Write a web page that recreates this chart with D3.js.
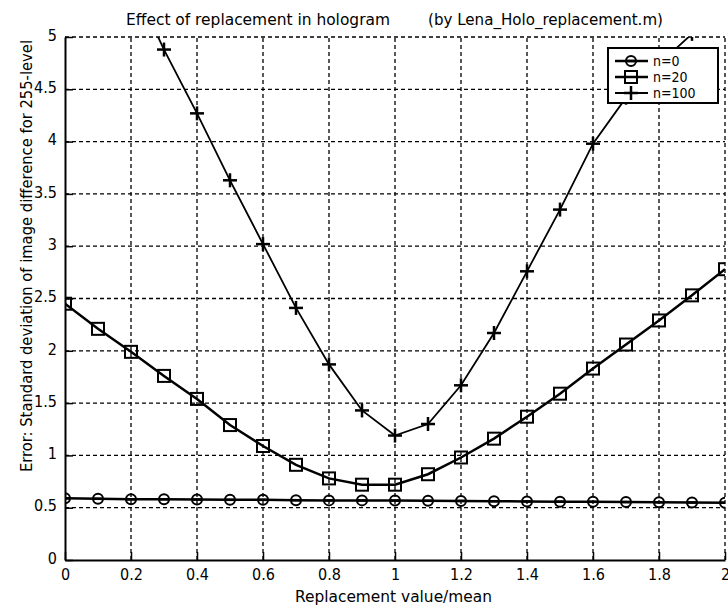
<!DOCTYPE html>
<html>
<head>
<meta charset="utf-8">
<script src="https://cdn.jsdelivr.net/npm/d3@7"></script>
<style>
  body { margin: 0; background: #fff; }
  svg text { font-family: "Liberation Sans Narrow", "DejaVu Sans Condensed", "Liberation Sans", sans-serif; fill: #000; }
</style>
</head>
<body>
<div class="container"></div>
<script>
const xValues = [0, 0.1, 0.2, 0.3, 0.4, 0.5, 0.6, 0.7, 0.8, 0.9, 1.0, 1.1, 1.2, 1.3, 1.4, 1.5, 1.6, 1.7, 1.8, 1.9, 2.0];
const n0 = [0.59, 0.585, 0.58, 0.58, 0.578, 0.575, 0.575, 0.572, 0.57, 0.57, 0.568, 0.566, 0.565, 0.562, 0.56, 0.558, 0.556, 0.554, 0.552, 0.55, 0.548];
const n20 = [2.45, 2.21, 1.99, 1.76, 1.54, 1.29, 1.09, 0.91, 0.78, 0.72, 0.72, 0.82, 0.98, 1.16, 1.37, 1.59, 1.83, 2.06, 2.29, 2.53, 2.78];
const n100 = [6.8, 6.2, 5.55, 4.88, 4.27, 3.63, 3.02, 2.41, 1.87, 1.43, 1.19, 1.3, 1.67, 2.17, 2.76, 3.35, 3.98, 4.42, 4.74, 5.03, 5.3];
const seriesNames = ["n=0", "n=20", "n=100"];
const xTicks = [0, 0.2, 0.4, 0.6, 0.8, 1, 1.2, 1.4, 1.6, 1.8, 2];
const yTicks = [0, 0.5, 1, 1.5, 2, 2.5, 3, 3.5, 4, 4.5, 5];

const width = 728;
const height = 612;
const svg = d3.select(".container").append("svg")
  .attr("width", width)
  .attr("height", height);

const x = d3.scaleLinear().domain([0, 2]).range([65, 725]);
const y = d3.scaleLinear().domain([0, 5]).range([560, 37]);

svg.append("defs").append("clipPath").attr("id", "plot")
  .append("rect")
  .attr("x", x(0)).attr("y", y(5))
  .attr("width", x(2) - x(0)).attr("height", y(0) - y(5));

// grid
const grid = svg.append("g").attr("stroke", "#000").attr("stroke-width", 1.3)
  .attr("stroke-dasharray", "4,3");
xTicks.slice(1).forEach((t) => {
  grid.append("line")
    .attr("x1", x(t)).attr("x2", x(t))
    .attr("y1", y(0)).attr("y2", y(5));
});
yTicks.slice(1).forEach((t) => {
  grid.append("line")
    .attr("x1", x(0)).attr("x2", x(2))
    .attr("y1", y(t)).attr("y2", y(t));
});

// axes
const xAxis = d3.axisBottom(x).tickValues(xTicks).tickSizeInner(-8).tickSizeOuter(0)
  .tickFormat(d3.format("~g")).tickPadding(10);
const gx = svg.append("g").attr("transform", `translate(0,${y(0)})`).call(xAxis);
gx.select(".domain").attr("stroke-width", 2);
gx.selectAll(".tick line").attr("stroke-width", 1.5);
gx.selectAll("text").attr("font-size", 16).attr("dy", "0.6em");

const yAxis = d3.axisLeft(y).tickValues(yTicks).tickSizeInner(-8).tickSizeOuter(0)
  .tickFormat(d3.format("~g")).tickPadding(8);
const gy = svg.append("g").attr("transform", `translate(${x(0)},0)`).call(yAxis);
gy.select(".domain").attr("stroke-width", 2);
gy.selectAll(".tick line").attr("stroke-width", 1.5);
gy.selectAll("text").attr("font-size", 16).attr("dy", "0.2em");
svg.selectAll(".domain, .tick line").attr("stroke", "#000");

// curves
const plot = svg.append("g").attr("clip-path", "url(#plot)");
const line = d3.line().x((d) => x(d[0])).y((d) => y(d[1]));
const series = [
  { name: seriesNames[0], values: n0, marker: "circle", width: 2.5 },
  { name: seriesNames[1], values: n20, marker: "square", width: 2.5 },
  { name: seriesNames[2], values: n100, marker: "plus", width: 1.8 },
];

function drawMarker(g, type, cx, cy) {
  if (type === "circle") {
    g.append("circle").attr("cx", cx).attr("cy", cy).attr("r", 5)
      .attr("fill", "none").attr("stroke", "#000").attr("stroke-width", 2);
    g.append("line").attr("x1", cx - 5).attr("x2", cx + 5).attr("y1", cy).attr("y2", cy)
      .attr("stroke", "#000").attr("stroke-width", 2.5);
  } else if (type === "square") {
    g.append("rect").attr("x", cx - 6).attr("y", cy - 6).attr("width", 12).attr("height", 12)
      .attr("fill", "none").attr("stroke", "#000").attr("stroke-width", 2);
  } else {
    g.append("line").attr("x1", cx - 7).attr("x2", cx + 7).attr("y1", cy).attr("y2", cy)
      .attr("stroke", "#000").attr("stroke-width", 2.5);
    g.append("line").attr("x1", cx).attr("x2", cx).attr("y1", cy - 7).attr("y2", cy + 7)
      .attr("stroke", "#000").attr("stroke-width", 2.5);
  }
}

series.forEach((s) => {
  const pts = xValues.map((v, i) => [v, s.values[i]]);
  plot.append("path").datum(pts)
    .attr("d", line)
    .attr("fill", "none")
    .attr("stroke", "#000")
    .attr("stroke-width", s.width);
  pts.forEach((p) => drawMarker(plot, s.marker, x(p[0]), y(p[1])));
});

// legend
const legend = svg.append("g");
legend.append("rect")
  .attr("x", 608).attr("y", 48).attr("width", 110).attr("height", 55)
  .attr("fill", "#fff").attr("stroke", "#000").attr("stroke-width", 2);
series.forEach((s, i) => {
  const ly = 61 + i * 16;
  legend.append("line")
    .attr("x1", 615).attr("x2", 648).attr("y1", ly).attr("y2", ly)
    .attr("stroke", "#000").attr("stroke-width", s.width);
  drawMarker(legend, s.marker, 631, ly);
  legend.append("text")
    .attr("x", 653).attr("y", ly + 5)
    .attr("font-size", 14)
    .text(s.name);
});

// titles
svg.append("text")
  .attr("x", 126).attr("y", 25)
  .attr("font-size", 15)
  .attr("textLength", 264).attr("lengthAdjust", "spacingAndGlyphs")
  .text("Effect of replacement in hologram");
svg.append("text")
  .attr("x", 428).attr("y", 25)
  .attr("font-size", 15)
  .attr("textLength", 235).attr("lengthAdjust", "spacingAndGlyphs")
  .text("(by Lena_Holo_replacement.m)");

svg.append("text")
  .attr("x", 295).attr("y", 602)
  .attr("font-size", 15)
  .attr("textLength", 197).attr("lengthAdjust", "spacingAndGlyphs")
  .text("Replacement value/mean");

svg.append("text")
  .attr("transform", "translate(32,472) rotate(-90)")
  .attr("font-size", 15)
  .attr("textLength", 432).attr("lengthAdjust", "spacingAndGlyphs")
  .text("Error: Standard deviation of image difference for 255-level");
</script>
</body>
</html>
